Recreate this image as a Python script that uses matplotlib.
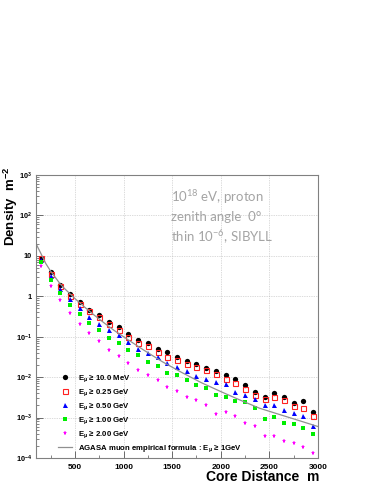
import numpy as np
import matplotlib
matplotlib.use("Agg")
import matplotlib.pyplot as plt
from matplotlib.ticker import FixedLocator, NullFormatter, LogLocator

# core distance bins (m)
r = [150, 250, 350, 450, 550, 650, 750, 850, 950, 1050, 1150, 1250, 1350, 1450,
     1550, 1650, 1750, 1850, 1950, 2050, 2150, 2250, 2350, 2450, 2550, 2650,
     2750, 2850, 2950]

# muon density (m^-2) for each energy threshold
e10mev = [9.0, 3.9, 1.95, 1.12, 0.72, 0.47, 0.34, 0.23, 0.17, 0.115, 0.083, 0.071,
          0.051, 0.042, 0.032, 0.025, 0.021, 0.017, 0.014, 0.0115, 0.0089, 0.0065,
          0.0044, 0.0033, 0.0041, 0.0032, 0.0023, 0.0026, 0.0014]
e025 = [8.8, 3.6, 1.8, 1.0, 0.66, 0.43, 0.30, 0.21, 0.15, 0.10, 0.071, 0.059,
        0.043, 0.032, 0.026, 0.021, 0.018, 0.015, 0.012, 0.0089, 0.0071, 0.0052,
        0.0036, 0.0028, 0.0032, 0.0027, 0.0019, 0.0017, 0.0011]
e050 = [8.0, 3.1, 1.55, 0.84, 0.51, 0.31, 0.21, 0.15, 0.108, 0.074, 0.051, 0.039,
        0.031, 0.022, 0.018, 0.014, 0.0107, 0.0092, 0.0077, 0.0066, 0.0043, 0.0037,
        0.0028, 0.0020, 0.0020, 0.0015, 0.0013, 0.0011, 0.00062]
e100 = [7.1, 2.5, 1.19, 0.62, 0.37, 0.22, 0.144, 0.095, 0.068, 0.046, 0.035, 0.024,
        0.019, 0.013, 0.011, 0.0083, 0.0063, 0.0053, 0.0037, 0.0032, 0.0026, 0.0024,
        0.0017, 0.00094, 0.00105, 0.00075, 0.00071, 0.00056, 0.00040]
e200 = [5.6, 1.8, 0.80, 0.39, 0.21, 0.123, 0.077, 0.046, 0.033, 0.022, 0.015, 0.011,
        0.0083, 0.0058, 0.0046, 0.0033, 0.0027, 0.0021, 0.00125, 0.0014, 0.0011,
        0.00074, 0.00062, 0.00035, 0.00036, 0.00026, 0.00023, 0.00019, 0.00013]

# AGASA curve
r_agasa = [100, 150, 200, 250, 300, 350, 400, 450, 500, 600, 700, 800, 900, 1000,
           1200, 1400, 1600, 1800, 2000, 2200, 2400, 2600, 2800, 3000]
rho_agasa = [20, 11.5, 6.5, 4.2, 2.9, 2.0, 1.5, 1.15, 0.88, 0.54, 0.34, 0.22, 0.145,
             0.10, 0.048, 0.024, 0.013, 0.0073, 0.0044, 0.0027, 0.0017, 0.0012,
             0.00085, 0.0006]

labels = [r"$\mathregular{E_{\mu}}$ ≥ 10.0 MeV",
          r"$\mathregular{E_{\mu}}$ ≥ 0.25 GeV",
          r"$\mathregular{E_{\mu}}$ ≥ 0.50 GeV",
          r"$\mathregular{E_{\mu}}$ ≥ 1.00 GeV",
          r"$\mathregular{E_{\mu}}$ ≥ 2.00 GeV",
          r"AGASA muon empirical formula : $\mathregular{E_{\mu}}$ ≥ 1GeV"]

plt.rcParams['font.family'] = ['Liberation Sans', 'DejaVu Sans']

fig = plt.figure(figsize=(3.82, 4.94), dpi=100)
ax = fig.add_axes([36/382, 1-458/494, 282/382, 283/494])

h1, = ax.plot(r, e10mev, 'o', color='black', ms=3.8, mew=0)
h2, = ax.plot(r, e025, 's', mfc='none', mec='#ff2020', ms=3.6, mew=0.8)
h3, = ax.plot(r, e050, '^', color='#0000ff', ms=3.6, mew=0)
h4, = ax.plot(r, e100, 's', color='#00ee00', ms=3.3, mew=0)
h5, = ax.plot(r, e200, '*', color='#ff00ff', ms=3.6, mew=0)
h6, = ax.plot(r_agasa, rho_agasa, '-', color='#909090', lw=0.9)

ax.set_yscale('log')
ax.set_xlim(100, 3000)
ax.set_ylim(1e-4, 1e3)

ax.xaxis.set_major_locator(FixedLocator([500, 1000, 1500, 2000, 2500, 3000]))
ax.xaxis.set_minor_locator(FixedLocator([250, 750, 1250, 1750, 2250, 2750]))
ax.set_xticklabels(['500', '1000', '1500', '2000', '2500', '3000'])
ydec = [1e-4, 1e-3, 1e-2, 1e-1, 1, 10, 1e2, 1e3]
ax.yaxis.set_major_locator(FixedLocator(ydec))
ax.yaxis.set_minor_locator(LogLocator(base=10, subs=np.arange(2, 10)))
ax.yaxis.set_minor_formatter(NullFormatter())
ax.set_yticklabels([r'$\mathregular{10^{-4}}$', r'$\mathregular{10^{-3}}$',
                    r'$\mathregular{10^{-2}}$', r'$\mathregular{10^{-1}}$',
                    '1', '10', r'$\mathregular{10^{2}}$', r'$\mathregular{10^{3}}$'])

ax.tick_params(which='both', direction='in', top=False, right=False,
               color='#555555')
ax.tick_params(axis='x', labelsize=6, pad=4)
ax.tick_params(axis='y', labelsize=5.3, pad=3)
ax.tick_params(which='major', length=5, width=0.6)
ax.tick_params(which='minor', length=2.5, width=0.5)
for lab in ax.get_xticklabels() + ax.get_yticklabels():
    lab.set_fontweight('bold')

ax.grid(True, which='major', linestyle=(0, (1, 1.5)), color='#b8b8b8', lw=0.5)
for s in ax.spines.values():
    s.set_color('#808080')
    s.set_linewidth(0.8)

ax.legend([h1, h2, h3, h4, h5, h6], labels, loc='lower left',
          bbox_to_anchor=(0.06, -0.005), frameon=False,
          prop={'weight': 'bold', 'size': 5.6}, handlelength=1.8,
          handletextpad=0.7, labelspacing=0.28, borderpad=0.2)

txt = dict(color='#a4a4a4', fontsize=9.5, family=['Lato', 'DejaVu Sans'],
           ha='left', va='center', transform=fig.transFigure)
fig.text(171/382, 1-197/494, r'$\mathregular{10^{18}}$ eV, proton', **txt)
fig.text(171/382, 1-217/494, 'zenith angle  0°', **txt)
fig.text(171/382, 1-237/494, r'thin $\mathregular{10^{-6}}$, SIBYLL', **txt)

fig.text(10.5/382, 1-206/494, r'Density  m$\mathregular{^{-2}}$', rotation=90,
         ha='center', va='center', fontsize=9.5, weight='bold')
fig.text(319/382, 1-477/494, 'Core Distance  m', ha='right', va='center',
         fontsize=10, weight='bold')

fig.savefig('out.png', dpi=100)
